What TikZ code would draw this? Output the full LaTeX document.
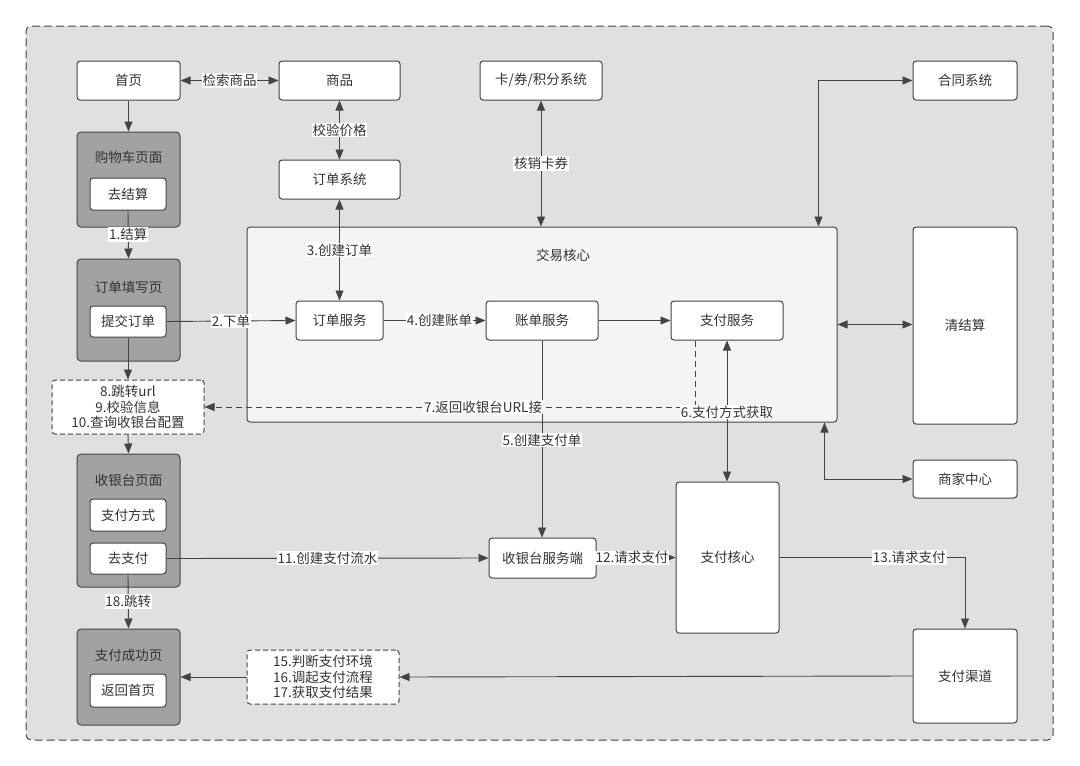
\documentclass[tikz,border=0pt]{standalone}
\usepackage{fontspec}
\setmainfont{Noto Sans CJK SC}
\usetikzlibrary{arrows.meta,calc}
\definecolor{bgc}{HTML}{E0E0E0}
\definecolor{grpc}{HTML}{A2A2A2}
\definecolor{corec}{HTML}{F4F4F4}
\definecolor{linec}{HTML}{444444}
\definecolor{textc}{HTML}{333333}
\newcommand\dfont{\fontsize{13.5}{15.5}\selectfont}
\begin{document}
\begin{tikzpicture}[x=1pt,y=-1pt,
  box/.style={draw=linec, fill=white, rounded corners=3pt, line width=1pt, text=textc, font=\dfont, inner sep=0pt, align=center},
  grp/.style={draw=linec, fill=grpc, rounded corners=4pt, line width=1pt},
  gtitle/.style={text=textc, font=\dfont, inner sep=0pt},
  dbox/.style={box, dash pattern=on 5pt off 3pt},
  lbl/.style={fill=white, inner sep=0.8pt, text=textc, font=\dfont},
  conn/.style={draw=linec, line width=0.9pt, -{Triangle[length=10pt,width=8pt]}},
  bconn/.style={draw=linec, line width=0.9pt, {Triangle[length=10pt,width=8pt]}-{Triangle[length=10pt,width=8pt]}}
]
\useasboundingbox (0,0) rectangle (1080,766);
\fill[white] (0,0) rectangle (1080,766);
% outer frame
\node[draw=linec, fill=bgc, rounded corners=5pt, line width=1pt, dash pattern=on 8pt off 4pt, minimum width=1027, minimum height=714, inner sep=0pt] (outer) at (539.5,383) {};

% groups
\node[grp, minimum width=103, minimum height=95] (gouwu) at (128.5,179.5) {};
\node[gtitle] (gouwuT) at (128.5,157) {购物车页面};
\node[grp, minimum width=103, minimum height=102] (tianxie) at (128.5,310) {};
\node[gtitle] (tianxieT) at (128.5,287) {订单填写页};
\node[grp, minimum width=103, minimum height=133] (shouyin) at (128.5,520.5) {};
\node[gtitle] (shouyinT) at (128.5,480) {收银台页面};
\node[grp, minimum width=103, minimum height=96] (chenggong) at (128.5,677) {};
\node[gtitle] (chenggongT) at (128.5,655) {支付成功页};

% trade core
\node[draw=linec, fill=corec, rounded corners=3pt, line width=1pt, minimum width=590, minimum height=195, inner sep=0pt] (core) at (542,324.5) {};
\node[gtitle] (coreT) at (563,255) {交易核心};

% boxes
\node[box, minimum width=103, minimum height=39] (shouye) at (128.5,80.5) {首页};
\node[box, minimum width=121, minimum height=39] (shangpin) at (339.5,80.5) {商品};
\node[box, minimum width=122, minimum height=39] (kaquan) at (541,80.5) {卡/券/积分系统};
\node[box, minimum width=104, minimum height=39] (hetong) at (965,80.5) {合同系统};
\node[box, minimum width=121, minimum height=39] (dingdanxt) at (339.5,179.5) {订单系统};
\node[box, minimum width=76, minimum height=32] (qujiesuan) at (128,194) {去结算};
\node[box, minimum width=76, minimum height=31] (tijiao) at (128,321.5) {提交订单};
\node[box, minimum width=104, minimum height=197] (qingjiesuan) at (965,325.5) {清结算};
\node[box, minimum width=87, minimum height=39] (dingdanfw) at (339.5,320.5) {订单服务};
\node[box, minimum width=112, minimum height=39] (zhangdan) at (542,320.5) {账单服务};
\node[box, minimum width=112, minimum height=39] (zhifufw) at (727,320.5) {支付服务};
\node[dbox, minimum width=152, minimum height=54] (dash1) at (128,407) {8.跳转url\\9.校验信息\\10.查询收银台配置};
\node[box, minimum width=104, minimum height=38] (shangjia) at (965,479) {商家中心};
\node[box, minimum width=76, minimum height=32] (zhifufs) at (128,515) {支付方式};
\node[box, minimum width=76, minimum height=31] (quzhifu) at (128,558.5) {去支付};
\node[box, minimum width=107, minimum height=40] (syfwd) at (542.5,558) {收银台服务端};
\node[box, minimum width=103, minimum height=151] (zfhx) at (727.5,557.5) {支付核心};
\node[box, minimum width=104, minimum height=94] (zfqd) at (965,676) {支付渠道};
\node[box, minimum width=76, minimum height=33] (fanhui) at (128,690.5) {返回首页};
\node[dbox, minimum width=152, minimum height=54] (dash2) at (323,677) {15.判断支付环境\\16.调起支付流程\\17.获取支付结果};

% connectors
\draw[bconn] (shouye.east) -- node[lbl]{检索商品} (shangpin.west);
\draw[bconn] (shangpin.south) -- node[lbl]{校验价格} (dingdanxt.north);
\draw[conn] (shouye.south) -- (gouwu.north);
\draw[conn] (qujiesuan.south) -- node[lbl]{1.结算} (tianxie.north);
\draw[conn] (tijiao.east) -- node[lbl]{2.下单} (dingdanfw.west);
\draw[bconn] (dingdanfw.north) -- node[lbl]{3.创建订单} (dingdanxt.south);
\draw[conn] (dingdanfw.east) -- node[lbl, pos=0.55]{4.创建账单} (zhangdan.west);
\draw[conn] (zhangdan.east) -- (zhifufw.west);
\draw[bconn] (kaquan.south) -- node[lbl]{核销卡券} (kaquan.south |- core.north);
\coordinate (hetongP) at ($(core.north east)+(-19,0)$);
\draw[bconn] (hetongP) |- (hetong.west);
\draw[bconn] (core.east) -- (core.east -| qingjiesuan.west);
\coordinate (shangjiaP) at ($(core.south east)+(-13,0)$);
\draw[bconn] (shangjiaP) |- (shangjia.west);
\draw[conn] (zhangdan.south) -- node[lbl, pos=0.505]{5.创建支付单} (zhangdan.south |- syfwd.north);
\coordinate (zfD) at ($(zhifufw.south)+(-32,0)$);
\draw[conn, dash pattern=on 6pt off 4pt] (zfD) |- node[lbl, pos=0.716]{7.返回收银台URL接} (dash1.east);
\draw[bconn] (zhifufw.south) -- node[lbl, pos=0.507]{6.支付方式获取} (zhifufw.south |- zfhx.north);
\draw[conn] (tijiao.south) -- (dash1.north);
\draw[conn] (dash1.south) -- (shouyin.north);
\draw[conn] (quzhifu.east) -- node[lbl]{11.创建支付流水} (syfwd.west);
\draw[conn] (syfwd.east) -- node[lbl, pos=0.45]{12.请求支付} (zfhx.west);
\draw[conn] (zfhx.east) -| node[lbl, pos=0.35]{13.请求支付} (zfqd.north);
\draw[conn] (zfqd.west) -- (dash2.east);
\draw[conn] (dash2.west) -- (chenggong.east);
\draw[conn] (quzhifu.south) -- node[lbl]{18.跳转} (chenggong.north);
\end{tikzpicture}
\end{document}
